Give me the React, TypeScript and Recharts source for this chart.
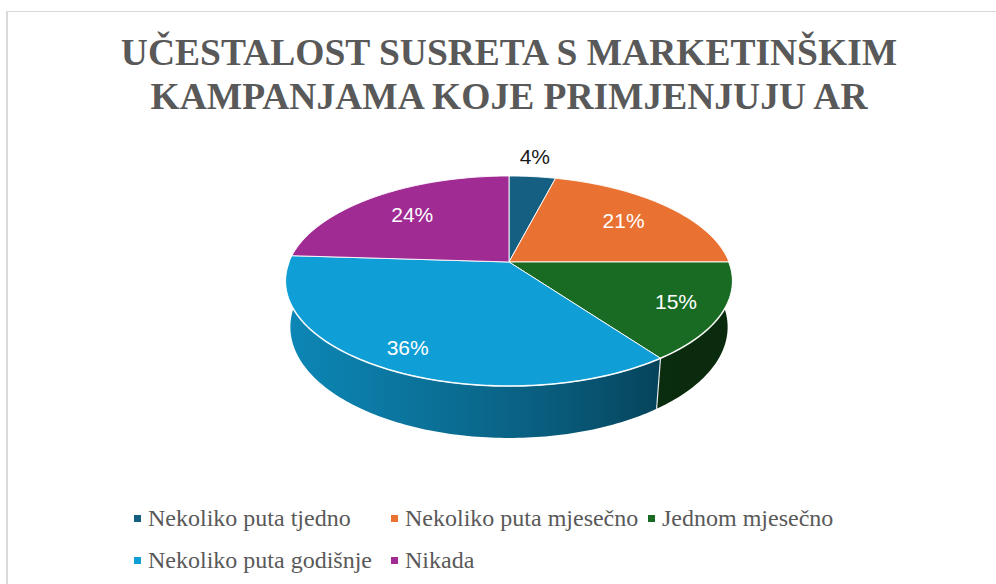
import React from 'react';
import { PieChart, Pie, Legend } from 'recharts';

const categories = [
  'Nekoliko puta tjedno',
  'Nekoliko puta mjesečno',
  'Jednom mjesečno',
  'Nekoliko puta godišnje',
  'Nikada',
];
const shares = [4, 21, 15, 36, 24];
const colors = ['#156082', '#E97132', '#196B24', '#0F9ED5', '#A02B93'];

const data = categories.map((name, i) => ({ name, value: shares[i] }));

const SERIF = "'Liberation Serif', 'Times New Roman', serif";

// perspective camera for the "3D" pie (units of pie radius)
const RAD = Math.PI / 180;
const TILT = 27.5 * RAD;
const DIST = 4.9;
const DEPTH = 0.238;

const project = (cx: number, cy: number, R: number, deg: number, r: number, y: number) => {
  const X = r * Math.cos(deg * RAD);
  const Z = r * Math.sin(deg * RAD);
  const zc = DIST + Z * Math.cos(TILT) - y * Math.sin(TILT);
  const yc = y * Math.cos(TILT) + Z * Math.sin(TILT);
  const F = R * DIST;
  return [cx + (F * X) / zc, cy - (F * yc) / zc];
};

const arcPoints = (cx: number, cy: number, R: number, from: number, to: number, y: number) => {
  const n = Math.max(2, Math.ceil(Math.abs(to - from)));
  const pts: number[][] = [];
  for (let k = 0; k <= n; k++) {
    pts.push(project(cx, cy, R, from + ((to - from) * k) / n, 1, y));
  }
  return pts;
};

const toPath = (pts: number[][]) =>
  pts.map((p, i) => `${i ? 'L' : 'M'}${p[0].toFixed(2)},${p[1].toFixed(2)}`).join('');

// light comes from the front left
const wallLight = (deg: number) => 0.4 + 0.46 * Math.max(0, Math.cos((deg + 170) * 0.75 * RAD));

const shade = (hex: string, f: number) => {
  const n = parseInt(hex.slice(1), 16);
  const c = [(n >> 16) & 255, (n >> 8) & 255, n & 255].map((v) => Math.round(v * f));
  return `rgb(${c[0]},${c[1]},${c[2]})`;
};

const renderSide = (p: any) => {
  const { cx, cy, outerRadius: R, startAngle, endAngle, index } = p;
  const hi = Math.min(startAngle, 0);
  const lo = Math.max(endAngle, -180);
  if (hi <= lo) return <g />;
  const top = arcPoints(cx, cy, R, lo, hi, 0);
  const bottom = arcPoints(cx, cy, R, hi, lo, -DEPTH);
  const x1 = top[0][0];
  const x2 = top[top.length - 1][0];
  const stops = [];
  for (let k = 0; k <= 10; k++) {
    const a = lo + ((hi - lo) * k) / 10;
    const x = project(cx, cy, R, a, 1, 0)[0];
    stops.push(
      <stop key={k} offset={(x - x1) / (x2 - x1 || 1)} stopColor={shade(colors[index], wallLight(a))} />
    );
  }
  const id = `wall-${index}`;
  return (
    <g>
      <defs>
        <linearGradient id={id} gradientUnits="userSpaceOnUse" x1={x1} y1={0} x2={x2} y2={0}>
          {stops}
        </linearGradient>
      </defs>
      <path d={toPath([...top, ...bottom]) + 'Z'} fill={`url(#${id})`} />
    </g>
  );
};

const renderTop = (p: any) => {
  const { cx, cy, outerRadius: R, startAngle, endAngle, midAngle, percent, index } = p;
  const rim = arcPoints(cx, cy, R, startAngle, endAngle, 0);
  const face = `M${cx},${cy}` + toPath(rim).replace(/^M/, 'L') + 'Z';

  const hi = Math.min(startAngle, 0);
  const lo = Math.max(endAngle, -180);
  const front = hi > lo ? toPath(arcPoints(cx, cy, R, lo, hi, 0)) : null;

  let seam = null;
  if (startAngle < 0 && startAngle > -180) {
    const a = project(cx, cy, R, startAngle, 1, 0);
    const b = project(cx, cy, R, startAngle, 1, -DEPTH);
    seam = <line x1={a[0]} y1={a[1]} x2={b[0]} y2={b[1]} stroke="#ffffff" strokeOpacity={0.85} strokeWidth={1.2} />;
  }

  const s = Math.sin(midAngle * RAD);
  let lx: number;
  let ly: number;
  let fill = '#ffffff';
  if (percent < 0.06) {
    const e = project(cx, cy, R, midAngle, 1, 0);
    lx = e[0] + Math.cos(midAngle * RAD) * 20;
    ly = e[1] - s * 20;
    fill = '#1a1a1a';
  } else {
    const e = project(cx, cy, R, midAngle, 0.76 - 0.08 * s, 0);
    lx = e[0];
    ly = e[1];
  }

  return (
    <g>
      <path d={face} fill={colors[index]} stroke="#ffffff" strokeOpacity={0.9} strokeWidth={1} strokeLinejoin="round" />
      {front && <path d={front} fill="none" stroke="#ffffff" strokeOpacity={0.85} strokeWidth={1.6} />}
      {seam}
      <text
        x={lx}
        y={ly}
        fill={fill}
        textAnchor="middle"
        dominantBaseline="central"
        fontFamily="'Liberation Sans', Arial, sans-serif"
        fontSize={21}
      >
        {`${Math.round(percent * 100)}%`}
      </text>
    </g>
  );
};

const renderLegend = (props: any) => {
  const seen: string[] = [];
  const items = (props.payload || [])
    .filter((it: any) => {
      if (seen.includes(it.value)) return false;
      seen.push(it.value);
      return true;
    })
    .sort((a: any, b: any) => categories.indexOf(a.value) - categories.indexOf(b.value));
  return (
    <div style={{ position: 'relative', width: 996, height: 84 }}>
      {items.map((it: any, i: number) => {
        const left = 134 + (i % 3) * 257;
        const top = 8 + Math.floor(i / 3) * 42;
        const idx = categories.indexOf(it.value);
        return (
          <div key={it.value} style={{ position: 'absolute', left, top, height: 28, whiteSpace: 'nowrap' }}>
            <span
              style={{
                position: 'absolute',
                left: 0,
                top: 11,
                width: 7,
                height: 7,
                background: colors[idx >= 0 ? idx : i],
              }}
            />
            <span
              style={{
                position: 'absolute',
                left: 14,
                top: 0,
                fontFamily: SERIF,
                fontSize: 24,
                lineHeight: '28px',
                color: '#595959',
              }}
            >
              {it.value}
            </span>
          </div>
        );
      })}
    </div>
  );
};

export default function App() {
  return (
    <div style={{ position: 'absolute', left: 0, top: 0, width: 996, height: 584, overflow: 'hidden', background: '#fff' }}>
      <div
        style={{
          position: 'absolute',
          left: 6,
          top: 11,
          width: 1010,
          height: 600,
          borderLeft: '2px solid #d9d9d9',
          borderTop: '1px solid #d9d9d9',
        }}
      />
      <div
        style={{
          position: 'absolute',
          left: 9,
          top: 31,
          width: 1000,
          textAlign: 'center',
          fontFamily: SERIF,
          fontWeight: 'bold',
          fontSize: 37.5,
          lineHeight: '44px',
          color: '#595959',
        }}
      >
        UČESTALOST SUSRETA S MARKETINŠKIM
        <br />
        KAMPANJAMA KOJE PRIMJENJUJU AR
      </div>
      <div style={{ position: 'absolute', left: 0, top: 0 }}>
        <PieChart width={996} height={584} margin={{ top: 0, right: 0, bottom: 0, left: 0 }}>
          <Pie
            data={data}
            dataKey="value"
            nameKey="name"
            cx={509}
            cy={262}
            outerRadius={220}
            startAngle={90}
            endAngle={-270}
            fill="none"
            stroke="none"
            legendType="none"
            label={renderSide}
            labelLine={false}
            isAnimationActive={false}
          />
          <Pie
            data={data}
            dataKey="value"
            nameKey="name"
            cx={509}
            cy={262}
            outerRadius={220}
            startAngle={90}
            endAngle={-270}
            fill="none"
            stroke="none"
            label={renderTop}
            labelLine={false}
            isAnimationActive={false}
          />
          <Legend
            verticalAlign="bottom"
            itemSorter={null as any}
            content={renderLegend}
            wrapperStyle={{ left: 0, top: 496, bottom: 'auto', width: 996, height: 84 }}
          />
        </PieChart>
      </div>
    </div>
  );
}
